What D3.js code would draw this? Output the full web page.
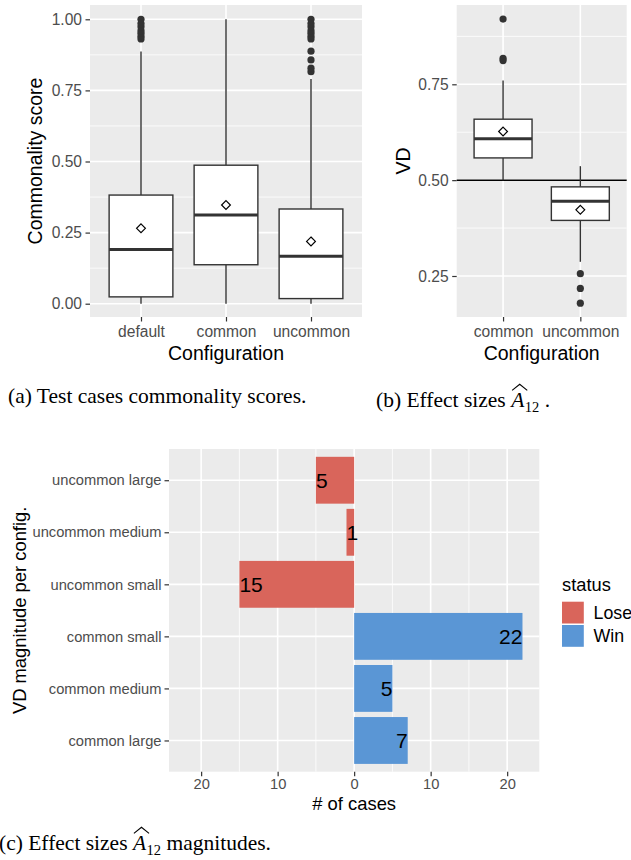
<!DOCTYPE html>
<html>
<head>
<meta charset="utf-8">
<script src="https://cdn.jsdelivr.net/npm/d3@7"></script>
<style>
  body { margin: 0; background: #fff; }
  svg { display: block; }
  text { white-space: pre; }
</style>
</head>
<body>
<svg id="chart" width="631" height="860"></svg>
<script>
// ---- data: (a) commonality scores ----
var configsA = ["default", "common", "uncommon"];
var lowA  = [0.0, 0.0, 0.0];
var q1A   = [0.024, 0.137, 0.018];
var medA  = [0.191, 0.312, 0.167];
var q3A   = [0.382, 0.487, 0.333];
var highA = [0.887, 1.0, 0.790];
var meanA = [0.265, 0.347, 0.219];
var outA  = [
  [0.931, 0.94, 0.951, 0.96, 0.974, 0.985, 1.0],
  [],
  [0.816, 0.828, 0.857, 0.888, 0.931, 0.94, 0.951, 0.96, 0.974, 0.985, 1.0]
];
var yTicksA = [0, 0.25, 0.5, 0.75, 1.0];

// ---- data: (b) effect sizes ----
var configsB = ["common", "uncommon"];
var lowB  = [0.50, 0.287];
var q1B   = [0.558, 0.395];
var medB  = [0.608, 0.445];
var q3B   = [0.659, 0.4825];
var highB = [0.760, 0.5365];
var meanB = [0.627, 0.4226];
var outB  = [[0.812, 0.818, 0.920], [0.179, 0.2175, 0.256]];
var yTicksB = [0.25, 0.5, 0.75];
var refLineB = 0.5;

// ---- data: (c) magnitudes ----
var magnitudes = ["uncommon large", "uncommon medium", "uncommon small",
                  "common small", "common medium", "common large"];
var caseCounts = [-5, -1, -15, 22, 5, 7];
var caseStatus = ["Lose", "Lose", "Lose", "Win", "Win", "Win"];
var statusLevels = ["Lose", "Win"];
var xTicksC = [-20, -10, 0, 10, 20];

var svg = d3.select('#chart');
var sans = '"Liberation Sans", Arial, sans-serif';
var serif = '"Liberation Serif", "Times New Roman", serif';

var statusColor = d3.scaleOrdinal().domain(statusLevels).range(["#D9655B", "#5A96D5"]);

// panel background
function panel(x0, x1, y0, y1) {
    svg.append('rect')
        .attr('x', x0).attr('y', y0)
        .attr('width', x1 - x0).attr('height', y1 - y0)
        .attr('fill', '#EBEBEB');
}

function hLine(y, x0, x1, w) {
    svg.append('line')
        .attr('x1', x0).attr('x2', x1).attr('y1', y).attr('y2', y)
        .attr('stroke', '#fff').attr('stroke-width', w);
}

function vLine(x, y0, y1, w) {
    svg.append('line')
        .attr('x1', x).attr('x2', x).attr('y1', y0).attr('y2', y1)
        .attr('stroke', '#fff').attr('stroke-width', w);
}

function styleAxis(g, size) {
    g.select('.domain').remove();
    g.selectAll('.tick line').attr('stroke', '#333').attr('stroke-width', 1.2);
    g.selectAll('.tick text')
        .attr('fill', '#4D4D4D')
        .style('font-size', size + 'px')
        .style('font-family', sans);
}

function axisTitle(text, x, y, size, rotate) {
    var t = svg.append('text')
        .attr('text-anchor', 'middle')
        .style('font-family', sans)
        .style('font-size', size + 'px')
        .attr('fill', '#000')
        .text(text);
    if (rotate) {
        t.attr('transform', 'translate(' + x + ',' + y + ') rotate(-90)');
    } else {
        t.attr('x', x).attr('y', y);
    }
}

function drawBoxes(cats, xs, ys, low, q1, med, q3, high, mean, outs) {
    var bw = xs.step() * 0.75;
    var g = svg.append('g');
    cats.forEach(function(c, i) {
        var cx = xs(c);
        // whiskers
        g.append('line').attr('x1', cx).attr('x2', cx)
            .attr('y1', ys(q3[i])).attr('y2', ys(high[i]))
            .attr('stroke', '#333').attr('stroke-width', 1.4);
        g.append('line').attr('x1', cx).attr('x2', cx)
            .attr('y1', ys(q1[i])).attr('y2', ys(low[i]))
            .attr('stroke', '#333').attr('stroke-width', 1.4);
        // box
        g.append('rect')
            .attr('x', cx - bw / 2).attr('width', bw)
            .attr('y', ys(q3[i])).attr('height', ys(q1[i]) - ys(q3[i]))
            .attr('fill', '#fff').attr('stroke', '#333').attr('stroke-width', 1.4);
        // median
        g.append('line').attr('x1', cx - bw / 2).attr('x2', cx + bw / 2)
            .attr('y1', ys(med[i])).attr('y2', ys(med[i]))
            .attr('stroke', '#333').attr('stroke-width', 3);
        // outliers
        g.selectAll(null).data(outs[i]).enter().append('circle')
            .attr('cx', cx).attr('cy', d => ys(d)).attr('r', 3.6)
            .attr('fill', '#333');
        // mean diamond
        var my = ys(mean[i]), s = 4.4;
        g.append('path')
            .attr('d', 'M' + cx + ',' + (my - s) + 'L' + (cx + s) + ',' + my +
                       'L' + cx + ',' + (my + s) + 'L' + (cx - s) + ',' + my + 'Z')
            .attr('fill', '#fff').attr('stroke', '#000').attr('stroke-width', 1.2);
    });
}

// ================= (a) =================
var aX0 = 90, aX1 = 362, topY0 = 5, topY1 = 317;
var xA = d3.scalePoint().domain(configsA).range([aX0, aX1]).padding(0.6);
var yA = d3.scaleLinear().domain([0, 1]).range([303.7, 19.3]);

panel(aX0, aX1, topY0, topY1);
yTicksA.forEach(function(t, i) {
    if (i > 0) hLine(yA((t + yTicksA[i - 1]) / 2), aX0, aX1, 0.8);
});
yTicksA.forEach(t => hLine(yA(t), aX0, aX1, 1.6));
configsA.forEach(c => vLine(xA(c), topY0, topY1, 1.6));

drawBoxes(configsA, xA, yA, lowA, q1A, medA, q3A, highA, meanA, outA);

var gAy = svg.append('g').attr('transform', 'translate(' + aX0 + ',0)')
    .call(d3.axisLeft(yA).tickValues(yTicksA).tickFormat(d3.format('.2f')).tickSize(4.5).tickPadding(3.5));
styleAxis(gAy, 15.6);
var gAx = svg.append('g').attr('transform', 'translate(0,' + topY1 + ')')
    .call(d3.axisBottom(xA).tickSize(4.5).tickPadding(4.5));
styleAxis(gAx, 15.6);

axisTitle('Configuration', (aX0 + aX1) / 2, 360, 19.5, false);
axisTitle('Commonality score', 42, (topY0 + topY1) / 2, 19.5, true);

// ================= (b) =================
var bX0 = 456.7, bX1 = 626.7;
var xB = d3.scalePoint().domain(configsB).range([bX0, bX1]).padding(0.6);
var yB = d3.scaleLinear().domain([0.25, 0.75]).range([276, 84.3]);

panel(bX0, bX1, topY0, topY1);
[0.375, 0.625, 0.875].forEach(t => hLine(yB(t), bX0, bX1, 0.8));
yTicksB.forEach(t => hLine(yB(t), bX0, bX1, 1.6));
configsB.forEach(c => vLine(xB(c), topY0, topY1, 1.6));

svg.append('line')
    .attr('x1', bX0).attr('x2', bX1)
    .attr('y1', yB(refLineB)).attr('y2', yB(refLineB))
    .attr('stroke', '#000').attr('stroke-width', 1.5);

drawBoxes(configsB, xB, yB, lowB, q1B, medB, q3B, highB, meanB, outB);

var gBy = svg.append('g').attr('transform', 'translate(' + bX0 + ',0)')
    .call(d3.axisLeft(yB).tickValues(yTicksB).tickFormat(d3.format('.2f')).tickSize(4.5).tickPadding(3.5));
styleAxis(gBy, 15.6);
var gBx = svg.append('g').attr('transform', 'translate(0,' + topY1 + ')')
    .call(d3.axisBottom(xB).tickSize(4.5).tickPadding(4.5));
styleAxis(gBx, 15.6);

axisTitle('Configuration', (bX0 + bX1) / 2, 360, 19.5, false);
axisTitle('VD', 410, (topY0 + topY1) / 2, 19.5, true);

// ================= (c) =================
var cX0 = 169, cX1 = 539.3, cY0 = 449, cY1 = 771.7;
var xC = d3.scaleLinear().domain([-24.2, 24.2]).range([cX0, cX1]);
var yC = d3.scalePoint().domain(magnitudes).range([cY0, cY1]).padding(0.6);
var barH = yC.step() * 0.9;

panel(cX0, cX1, cY0, cY1);
[-15, -5, 5, 15].forEach(t => vLine(xC(t), cY0, cY1, 0.8));
xTicksC.forEach(t => vLine(xC(t), cY0, cY1, 1.6));
magnitudes.forEach(m => hLine(yC(m), cX0, cX1, 1.6));

svg.selectAll('.bar')
    .data(magnitudes)
    .enter()
    .append('rect')
    .attr('class', 'bar')
    .attr('x', (d, i) => xC(Math.min(0, caseCounts[i])))
    .attr('width', (d, i) => Math.abs(xC(caseCounts[i]) - xC(0)))
    .attr('y', d => yC(d) - barH / 2)
    .attr('height', barH)
    .attr('fill', (d, i) => statusColor(caseStatus[i]));

svg.selectAll('.barlabel')
    .data(magnitudes)
    .enter()
    .append('text')
    .attr('class', 'barlabel')
    .attr('x', (d, i) => xC(caseCounts[i]))
    .attr('y', d => yC(d))
    .attr('dy', '0.36em')
    .attr('text-anchor', (d, i) => caseCounts[i] < 0 ? 'start' : 'end')
    .style('font-family', sans)
    .style('font-size', '21px')
    .attr('fill', '#000')
    .text((d, i) => Math.abs(caseCounts[i]));

var gCy = svg.append('g').attr('transform', 'translate(' + cX0 + ',0)')
    .call(d3.axisLeft(yC).tickSize(4.5).tickPadding(3));
styleAxis(gCy, 14.7);
var gCx = svg.append('g').attr('transform', 'translate(0,' + cY1 + ')')
    .call(d3.axisBottom(xC).tickValues(xTicksC).tickFormat(d => Math.abs(d)).tickSize(4.5).tickPadding(2));
styleAxis(gCx, 14.7);

axisTitle('# of cases', (cX0 + cX1) / 2, 810, 18.4, false);
axisTitle('VD magnitude per config.', 25.5, (cY0 + cY1) / 2, 18.4, true);

// legend
svg.append('text')
    .attr('x', 562).attr('y', 590.5)
    .style('font-family', sans).style('font-size', '18.3px')
    .text('status');
var legend = svg.selectAll('.key')
    .data(statusLevels)
    .enter()
    .append('g')
    .attr('class', 'key')
    .attr('transform', (d, i) => 'translate(562,' + (601.7 + i * 23.3) + ')');
legend.append('rect')
    .attr('width', 21.8).attr('height', 21.8)
    .attr('fill', d => statusColor(d));
legend.append('text')
    .attr('x', 31.5).attr('y', 10.9).attr('dy', '0.36em')
    .style('font-family', sans).style('font-size', '17.8px')
    .text(d => d);

// ================= captions =================
function caption(x, y, prefix, suffix) {
    var g = svg.append('g');
    var size = 21.5;
    var t1 = g.append('text').attr('x', x).attr('y', y)
        .style('font-family', serif).style('font-size', size + 'px').text(prefix);
    var w1 = t1.node().getComputedTextLength();
    if (suffix === null) return;
    var ax = x + w1;
    var tA = g.append('text').attr('x', ax).attr('y', y)
        .style('font-family', serif).style('font-size', size + 'px')
        .style('font-style', 'italic').text('A');
    var wA = tA.node().getComputedTextLength();
    var sx = ax + wA + 0.5;
    var tS = g.append('text').attr('x', sx).attr('y', y + 5)
        .style('font-family', serif).style('font-size', '14.5px').text('12');
    var wS = tS.node().getComputedTextLength();
    g.append('text').attr('x', sx + wS).attr('y', y)
        .style('font-family', serif).style('font-size', size + 'px').text(suffix);
    // wide hat over the A
    var hy = y - size * 0.66 - 2.5;
    g.append('path')
        .attr('d', 'M' + (ax + 1) + ',' + hy + 'L' + (ax + wA / 2 + 2) + ',' + (hy - 6) +
                   'L' + (ax + wA + 3) + ',' + hy)
        .attr('fill', 'none').attr('stroke', '#000').attr('stroke-width', 1.1);
}

caption(8, 403, '(a) Test cases commonality scores.', null);
caption(376, 407, '(b) Effect sizes ', ' .');
caption(-1, 850, '(c) Effect sizes ', ' magnitudes.');
</script>
</body>
</html>
